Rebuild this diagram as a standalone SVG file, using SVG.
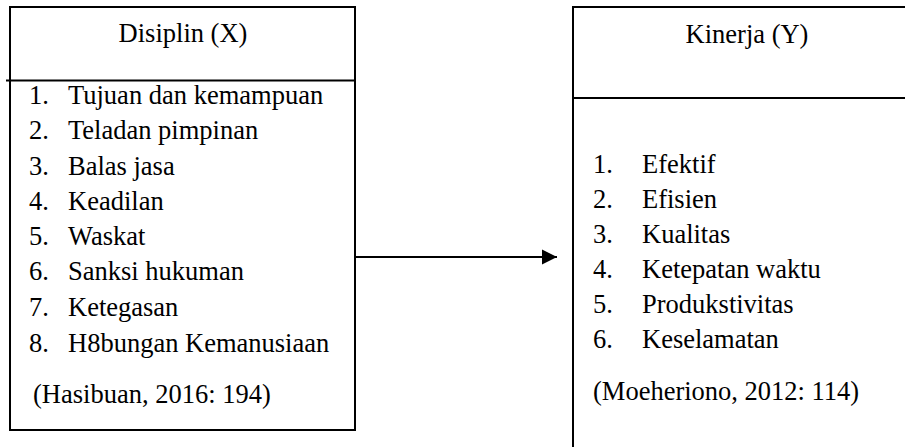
<svg xmlns="http://www.w3.org/2000/svg" width="905" height="447" viewBox="0 0 905 447">
<style>
  .box { fill: #ffffff; stroke: #000000; stroke-width: 2; }
  .ln { stroke: #000000; stroke-width: 2; fill: none; }
  .mid { text-anchor: middle; }
</style>
<defs>
  <marker id="arrow" markerWidth="16" markerHeight="16" refX="15" refY="8" orient="auto" markerUnits="userSpaceOnUse">
    <path d="M0,0.5 L15,8 L0,15.5 Z" fill="#000000"/>
  </marker>
</defs>
<rect width="905" height="447" fill="#ffffff"/>
<g id="disiplin" font-family="Liberation Serif, Times New Roman, serif" font-size="26.5" fill="#000000">
  <rect class="box" x="10" y="7" width="345" height="423"/>
  <line class="ln" x1="6" y1="80.5" x2="355" y2="80.5"/>
  <text class="mid" x="183" y="42">Disiplin (X)</text>
  <text x="29" y="104">1.</text><text x="68" y="104">Tujuan dan kemampuan</text>
  <text x="29" y="139">2.</text><text x="68" y="139">Teladan pimpinan</text>
  <text x="29" y="175">3.</text><text x="68" y="175">Balas jasa</text>
  <text x="29" y="210">4.</text><text x="68" y="210">Keadilan</text>
  <text x="29" y="245">5.</text><text x="68" y="245">Waskat</text>
  <text x="29" y="280">6.</text><text x="68" y="280">Sanksi hukuman</text>
  <text x="29" y="316">7.</text><text x="68" y="316">Ketegasan</text>
  <text x="29" y="352">8.</text><text x="68" y="352">H8bungan Kemanusiaan</text>
  <text x="33" y="403">(Hasibuan, 2016: 194)</text>
</g>
<g id="kinerja" font-family="Liberation Serif, Times New Roman, serif" font-size="26.5" fill="#000000">
  <path class="ln" d="M573,447 L573,7 L910,7"/>
  <line class="ln" x1="573" y1="98" x2="910" y2="98"/>
  <text class="mid" x="747" y="43">Kinerja (Y)</text>
  <text x="593" y="173">1.</text><text x="642" y="173">Efektif</text>
  <text x="593" y="208">2.</text><text x="642" y="208">Efisien</text>
  <text x="593" y="243">3.</text><text x="642" y="243">Kualitas</text>
  <text x="593" y="278">4.</text><text x="642" y="278">Ketepatan waktu</text>
  <text x="593" y="313">5.</text><text x="642" y="313">Produkstivitas</text>
  <text x="593" y="348">6.</text><text x="642" y="348">Keselamatan</text>
  <text x="593" y="400">(Moeheriono, 2012: 114)</text>
</g>
<g id="connectors">
  <line class="ln" x1="356" y1="257" x2="557" y2="257" stroke-width="2.5" marker-end="url(#arrow)"/>
</g>
</svg>
